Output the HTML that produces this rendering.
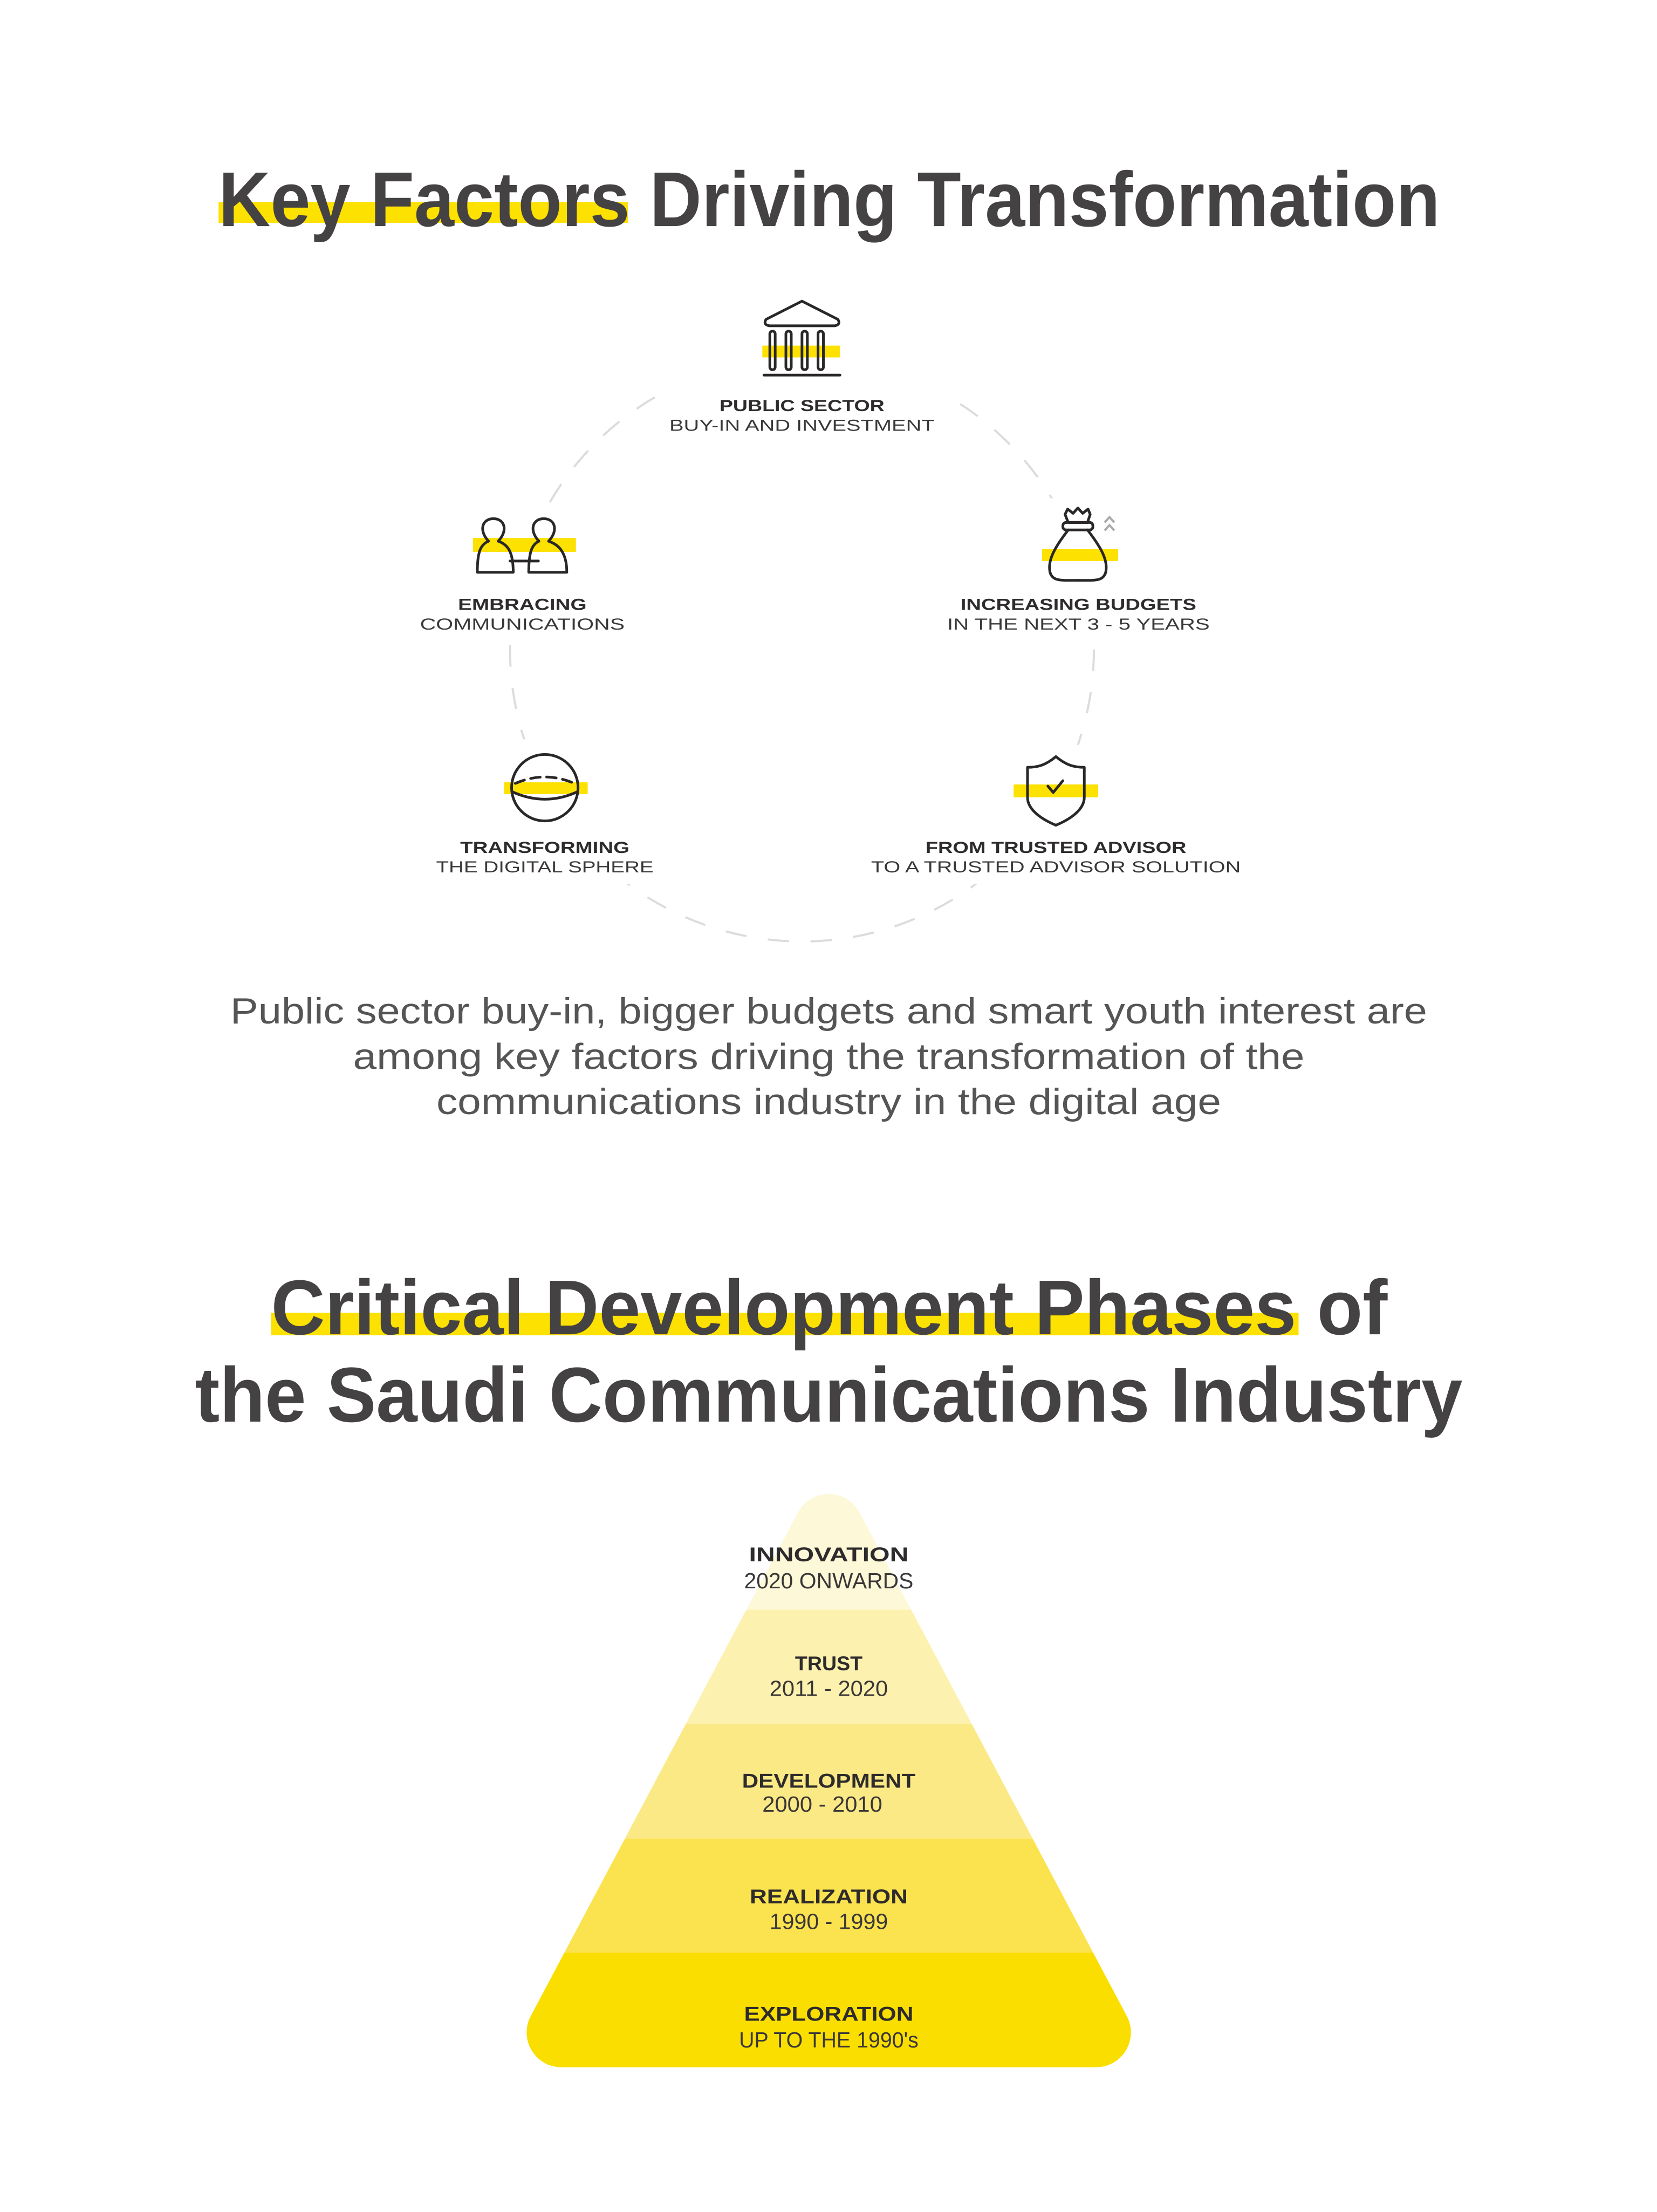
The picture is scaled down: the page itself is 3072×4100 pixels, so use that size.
<!DOCTYPE html>
<html><head><meta charset="utf-8"><style>
html,body{margin:0;padding:0;background:#fff;}
svg{display:block;}
.t{font-family:"Liberation Sans",sans-serif;font-weight:bold;fill:#454244;}
.lb{font-family:"Liberation Sans",sans-serif;font-weight:bold;fill:#2e2b2c;font-size:30px;}
.ll{font-family:"Liberation Sans",sans-serif;fill:#3a3738;font-size:30px;}
.p{font-family:"Liberation Sans",sans-serif;fill:#555;font-size:68px;}
.pb{font-family:"Liberation Sans",sans-serif;font-weight:bold;fill:#2e2b2c;font-size:37px;}
.pl{font-family:"Liberation Sans",sans-serif;fill:#3a3738;font-size:41px;}
.ic{fill:none;stroke:#2a2728;stroke-width:5;stroke-linejoin:round;stroke-linecap:round;}
</style></head><body>
<svg width="3072" height="4100" viewBox="0 0 3072 4100" xmlns="http://www.w3.org/2000/svg">
<rect width="3072" height="4100" fill="#fff"/>
<defs>
<mask id="pm" maskUnits="userSpaceOnUse" x="0" y="0" width="3072" height="4100">
<rect width="3072" height="4100" fill="#000"/>
<polygon points="1547,2853 1048,3793 2046,3793" fill="#fff" stroke="#fff" stroke-width="130" stroke-linejoin="round"/>
</mask>
</defs>
<g transform="scale(0.9932)">
<!-- Title 1 -->
<rect x="408" y="377" width="764" height="39" fill="#fde100"/>
<text class="t" x="408" y="422" font-size="145" textLength="2280" lengthAdjust="spacingAndGlyphs">Key Factors Driving Transformation</text>

<circle cx="1497" cy="1212" r="545" fill="none" stroke="#dcdcdc" stroke-width="4" stroke-dasharray="40 40"/>
<rect x="1230" y="540" width="540" height="290" fill="#fff"/>
<rect x="760" y="940" width="430" height="260" fill="#fff"/>
<rect x="1740" y="930" width="520" height="270" fill="#fff"/>
<rect x="790" y="1380" width="460" height="270" fill="#fff"/>
<rect x="1600" y="1390" width="740" height="260" fill="#fff"/>

<rect x="1423" y="645" width="145" height="22" fill="#fde100"/>
<path class="ic" d="M1497 562 L1430 596 Q1424 606 1436 608 L1558 608 Q1570 606 1564 596 Z"/>
<rect class="ic" x="1437" y="618" width="10" height="72" rx="5"/>
<rect class="ic" x="1467" y="618" width="10" height="72" rx="5"/>
<rect class="ic" x="1497" y="618" width="10" height="72" rx="5"/>
<rect class="ic" x="1527" y="618" width="10" height="72" rx="5"/>
<line class="ic" x1="1426" y1="700" x2="1568" y2="700"/>
<text class="lb" x="1497" y="767" text-anchor="middle" textLength="308" lengthAdjust="spacingAndGlyphs">PUBLIC SECTOR</text>
<text class="ll" x="1497" y="804" text-anchor="middle" textLength="495" lengthAdjust="spacingAndGlyphs">BUY-IN AND INVESTMENT</text>

<rect x="883" y="1004" width="192" height="26" fill="#fde100"/>
<path class="ic" d="M912 1010 C893 990 900 968 921 968 C942 968 949 990 930 1010 C948 1016 958 1030 958 1068 L891 1068 C891 1030 897 1016 912 1010 Z"/>
<path class="ic" d="M1006 1010 C987 990 994 968 1015 968 C1036 968 1043 990 1024 1010 C1042 1016 1058 1030 1058 1068 L987 1068 C987 1030 993 1016 1006 1010 Z"/>
<line class="ic" x1="952" y1="1047" x2="1005" y2="1047"/>
<text class="lb" x="975" y="1138" text-anchor="middle" textLength="240" lengthAdjust="spacingAndGlyphs">EMBRACING</text>
<text class="ll" x="975" y="1175" text-anchor="middle" textLength="382" lengthAdjust="spacingAndGlyphs">COMMUNICATIONS</text>

<rect x="1945" y="1025" width="142" height="22" fill="#fde100"/>
<path class="ic" d="M1988 960 L1993 950 L2003 958 L2012 948 L2021 958 L2031 950 L2035 960 L2030 975 L1994 975 Z"/>
<rect class="ic" x="1984" y="975" width="56" height="14" rx="6"/>
<path class="ic" d="M1994 989 C1970 1020 1955 1045 1960 1068 C1965 1085 1980 1083 2012 1083 C2044 1083 2059 1085 2064 1068 C2069 1045 2054 1020 2030 989"/>
<path d="M2062 975 L2071 965 L2080 975 M2062 990 L2071 980 L2080 990" fill="none" stroke="#aaa" stroke-width="4"/>
<text class="lb" x="2013" y="1138" text-anchor="middle" textLength="440" lengthAdjust="spacingAndGlyphs">INCREASING BUDGETS</text>
<text class="ll" x="2013" y="1175" text-anchor="middle" textLength="490" lengthAdjust="spacingAndGlyphs">IN THE NEXT 3 - 5 YEARS</text>

<rect x="941" y="1460" width="156" height="22" fill="#fde100"/>
<circle class="ic" cx="1017" cy="1470" r="62"/>
<path class="ic" d="M957 1478 Q1017 1505 1077 1478"/>
<path class="ic" d="M962 1462 Q1017 1438 1072 1462" stroke-dasharray="18 12"/>
<text class="lb" x="1017" y="1592" text-anchor="middle" textLength="316" lengthAdjust="spacingAndGlyphs">TRANSFORMING</text>
<text class="ll" x="1017" y="1628" text-anchor="middle" textLength="406" lengthAdjust="spacingAndGlyphs">THE DIGITAL SPHERE</text>

<rect x="1892" y="1464" width="158" height="24" fill="#fde100"/>
<path class="ic" d="M1971 1412 C1990 1428 2005 1432 2024 1432 L2024 1488 C2024 1510 2000 1528 1971 1540 C1942 1528 1918 1510 1918 1488 L1918 1432 C1937 1432 1952 1428 1971 1412 Z"/>
<path class="ic" d="M1956 1467 L1966 1479 L1984 1457"/>
<text class="lb" x="1971" y="1592" text-anchor="middle" textLength="487" lengthAdjust="spacingAndGlyphs">FROM TRUSTED ADVISOR</text>
<text class="ll" x="1971" y="1628" text-anchor="middle" textLength="690" lengthAdjust="spacingAndGlyphs">TO A TRUSTED ADVISOR SOLUTION</text>

<text class="p" x="1547" y="1910" text-anchor="middle" textLength="2234" lengthAdjust="spacingAndGlyphs">Public sector buy-in, bigger budgets and smart youth interest are</text>
<text class="p" x="1547" y="1995" text-anchor="middle" textLength="1776" lengthAdjust="spacingAndGlyphs">among key factors driving the transformation of the</text>
<text class="p" x="1547" y="2079" text-anchor="middle" textLength="1465" lengthAdjust="spacingAndGlyphs">communications industry in the digital age</text>

<rect x="506" y="2450" width="1918" height="42" fill="#fde100"/>
<text class="t" x="506" y="2490" font-size="145" textLength="2084" lengthAdjust="spacingAndGlyphs">Critical Development Phases of</text>
<text class="t" x="364" y="2653" font-size="145" textLength="2366" lengthAdjust="spacingAndGlyphs">the Saudi Communications Industry</text>

<g mask="url(#pm)">
<rect x="900" y="2700" width="1300" height="304" fill="#fdf8d8"/>
<rect x="900" y="3004" width="1300" height="213" fill="#fcf1ae"/>
<rect x="900" y="3217" width="1300" height="214" fill="#fbe985"/>
<rect x="900" y="3431" width="1300" height="213" fill="#fbe34f"/>
<rect x="900" y="3644" width="1300" height="250" fill="#fade00"/>
</g>
<text class="pb" x="1547" y="2914" text-anchor="middle" textLength="298" lengthAdjust="spacingAndGlyphs">INNOVATION</text>
<text class="pl" x="1547" y="2964" text-anchor="middle" textLength="316" lengthAdjust="spacingAndGlyphs">2020 ONWARDS</text>
<text class="pb" x="1547" y="3117" text-anchor="middle" textLength="126" lengthAdjust="spacingAndGlyphs">TRUST</text>
<text class="pl" x="1547" y="3165" text-anchor="middle" textLength="221" lengthAdjust="spacingAndGlyphs">2011 - 2020</text>
<text class="pb" x="1547" y="3336" text-anchor="middle" textLength="324" lengthAdjust="spacingAndGlyphs">DEVELOPMENT</text>
<text class="pl" x="1535" y="3381" text-anchor="middle" textLength="224" lengthAdjust="spacingAndGlyphs">2000 - 2010</text>
<text class="pb" x="1547" y="3552" text-anchor="middle" textLength="295" lengthAdjust="spacingAndGlyphs">REALIZATION</text>
<text class="pl" x="1547" y="3600" text-anchor="middle" textLength="221" lengthAdjust="spacingAndGlyphs">1990 - 1999</text>
<text class="pb" x="1547" y="3771" text-anchor="middle" textLength="316" lengthAdjust="spacingAndGlyphs">EXPLORATION</text>
<text class="pl" x="1547" y="3821" text-anchor="middle" textLength="335" lengthAdjust="spacingAndGlyphs">UP TO THE 1990's</text>
</g>
</svg>
</body></html>
